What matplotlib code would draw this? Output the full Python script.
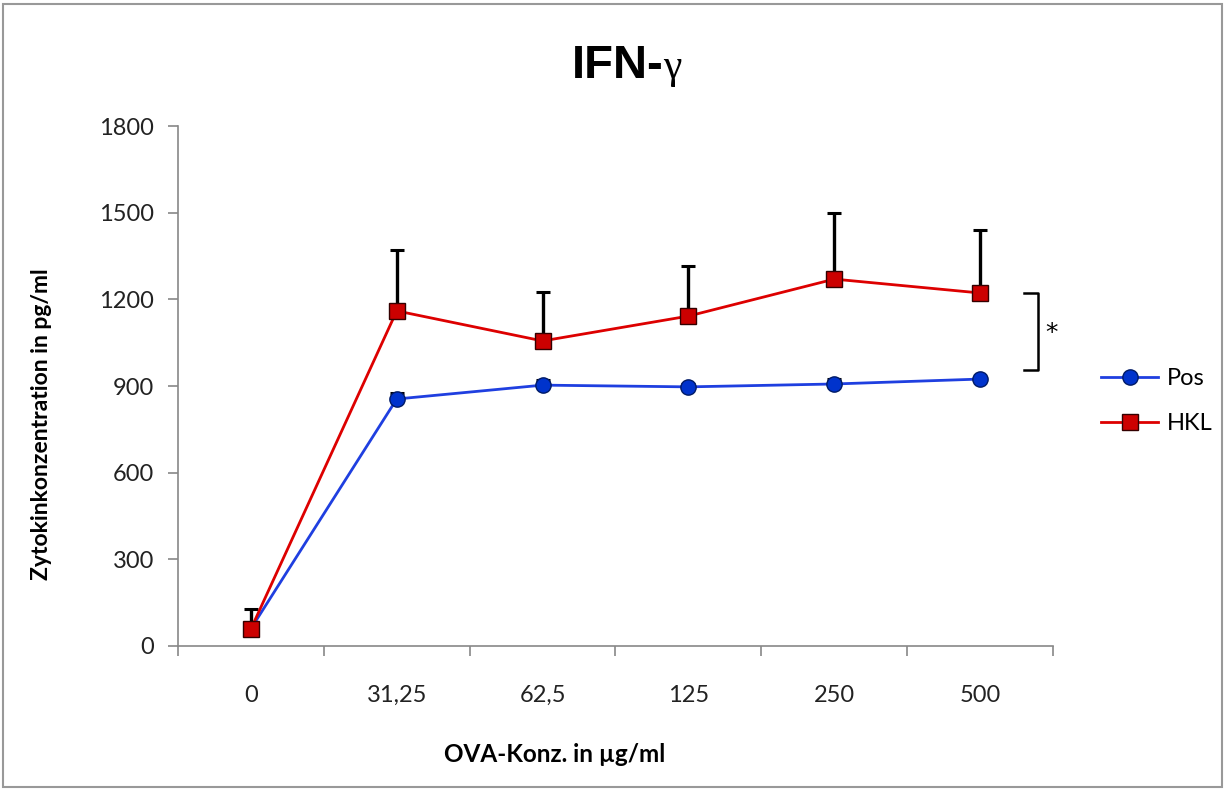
import matplotlib
matplotlib.use("Agg")
import matplotlib.pyplot as plt
import numpy as np

categories = ["0", "31,25", "62,5", "125", "250", "500"]
pos_values = [60, 855, 903, 897, 907, 924]
pos_err = [10, 20, 18, 10, 18, 8]
hkl_values = [59, 1160, 1056, 1142, 1270, 1222]
hkl_err = [69, 211, 169, 173, 229, 218]
yticks = [0, 300, 600, 900, 1200, 1500, 1800]

plt.rcParams['font.family'] = ['Lato', 'DejaVu Sans']

fig = plt.figure(figsize=(12.27, 7.9), dpi=100)
ax = fig.add_axes([178/1227, 1-646/790, (1053-178)/1227, (646-126)/790])

x = np.arange(len(categories))
ax.errorbar(x, pos_values, yerr=[np.zeros(len(x)), pos_err], fmt='none',
            ecolor='black', elinewidth=2.4, capsize=5, capthick=2.2, zorder=2)
ax.errorbar(x, hkl_values, yerr=[np.zeros(len(x)), hkl_err], fmt='none',
            ecolor='black', elinewidth=2.4, capsize=5, capthick=2.2, zorder=2)
ax.plot(x, pos_values, color='#1f3fe0', lw=2, marker='o', ms=11,
        mfc='#0033cc', mec='#001a66', mew=1, label='Pos', zorder=3)
ax.plot(x, hkl_values, color='#dd0000', lw=2, marker='s', ms=11,
        mfc='#cc0000', mec='#330000', mew=1, label='HKL', zorder=4)

ax.set_xlim(-0.5, len(categories) - 0.5)
ax.set_ylim(0, 1800)
ax.set_yticks(yticks)
ax.set_yticklabels([str(v) for v in yticks], fontsize=17, color='#222222')
ax.set_xticks(np.arange(-0.5, len(categories), 1.0))
ax.set_xticklabels([])
ax.set_xticks(x, minor=True)
ax.set_xticklabels(categories, minor=True, fontsize=17, color='#222222')
ax.tick_params(axis='x', which='major', length=7, color='#888888', width=1.2)
ax.tick_params(axis='x', which='minor', length=0, pad=28)
ax.tick_params(axis='y', length=7, color='#888888', width=1.2, pad=10)
for s in ['top', 'right']:
    ax.spines[s].set_visible(False)
for s in ['left', 'bottom']:
    ax.spines[s].set_color('#888888')
    ax.spines[s].set_linewidth(1.2)

# significance bracket
ax.plot([5.3, 5.4, 5.4, 5.3], [1222, 1222, 955, 955], color='black', lw=1.8,
        clip_on=False)
ax.text(5.49, 1085, '*', fontsize=18, ha='center', va='center',
        family=['DejaVu Sans'])

fig.text(664/1227, 1-78/790, 'IFN-', fontsize=34, fontweight='bold',
         ha='right', va='baseline', family=['Liberation Sans', 'DejaVu Sans'])
fig.text(663/1227, 1-78/790, 'γ', fontsize=30,
         ha='left', va='baseline', family=['Liberation Serif', 'DejaVu Serif'])
fig.text(555/1227, 1-755/790, 'OVA-Konz. in µg/ml', fontsize=17.5, fontweight='bold',
         ha='center', va='center')
fig.text(42/1227, 1-424/790, 'Zytokinkonzentration in pg/ml', fontsize=16.5,
         fontweight='bold', ha='center', va='center', rotation=90)

leg = fig.legend(loc='upper left', bbox_to_anchor=(1080/1227, 1-347/790),
                 frameon=False, fontsize=17, handlelength=2.4, labelspacing=1.0,
                 handletextpad=0.4)

fig.patches.append(plt.Rectangle((3/1227, 3/790), 1219/1227, 783/790,
                                 transform=fig.transFigure, fill=False,
                                 edgecolor='#999999', lw=1.5))

fig.savefig('out.png', dpi=100)
